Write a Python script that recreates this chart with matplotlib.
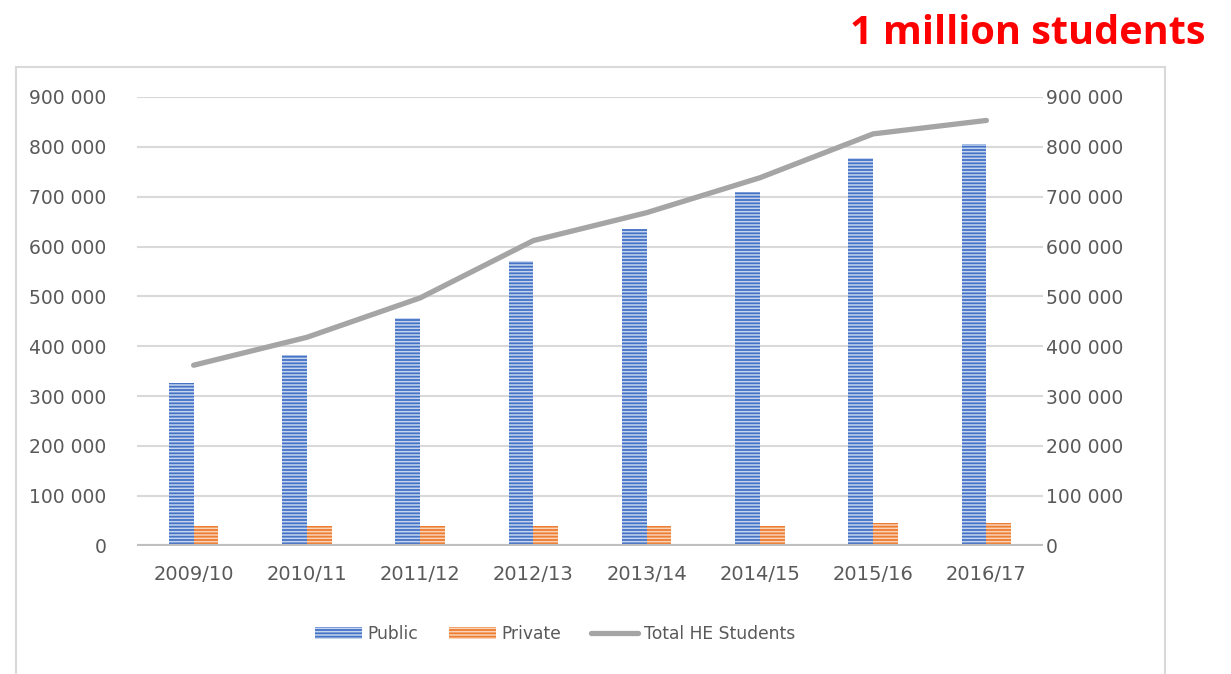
import matplotlib.pyplot as plt
import matplotlib.patches as mpatches
import numpy as np

# Data
years = ["2009/10", "2010/11", "2011/12", "2012/13", "2013/14", "2014/15", "2015/16", "2016/17"]
public = [327000, 383000, 457000, 572000, 635000, 709000, 778000, 806000]
private = [40000, 40000, 40000, 40000, 40000, 40000, 46000, 46000]
total = [362000, 418000, 497000, 612000, 668000, 738000, 826000, 853000]
yticks = [0, 100000, 200000, 300000, 400000, 500000, 600000, 700000, 800000, 900000]

blue = "#4472C4"
orange = "#ED7D31"
grey = "#A5A5A5"
txt = "#595959"

plt.rcParams['hatch.linewidth'] = 1.1

fig = plt.figure(figsize=(12.31, 6.74), dpi=100)

# chart frame (open at the bottom)
frame = mpatches.Rectangle((16 / 1231, -0.1), (1165 - 16) / 1231, 1.1 - 67 / 674,
                           transform=fig.transFigure, fill=False,
                           edgecolor="#D9D9D9", lw=1.5)
fig.patches.append(frame)

ax = fig.add_axes([137 / 1231, 1 - 545.7 / 674, (1043 - 137) / 1231, (545.7 - 97) / 674])

x = np.arange(len(years))
w = 0.218
b1 = ax.bar(x - w / 2, public, w, facecolor=blue, edgecolor="#C5D4EF", hatch="-----", lw=0, label="Public")
b2 = ax.bar(x + w / 2, private, w, facecolor=orange, edgecolor="#FAD3B8", hatch="-----", lw=0, label="Private")
l1, = ax.plot(x, total, color=grey, lw=3.8, solid_capstyle="round", label="Total HE Students")

ax.set_xlim(-0.5, len(years) - 0.5)
ax.set_ylim(0, 900000)
ax.set_yticks(yticks)
ax.set_yticklabels([f"{v:,}".replace(",", " ") for v in yticks])
ax.set_xticks(x)
ax.set_xticklabels(years)
ax.grid(axis="y", color="#D9D9D9", lw=1.5)
ax.set_axisbelow(True)
ax.axhline(0, color="#BFBFBF", lw=3, zorder=1)
for s in ax.spines.values():
    s.set_visible(False)
ax.tick_params(axis="both", length=0, colors=txt)
ax.tick_params(axis="y", labelsize=13.5, pad=22)
ax.tick_params(axis="x", labelsize=14, pad=14)

ax2 = ax.twinx()
ax2.set_ylim(0, 900000)
ax2.set_yticks(yticks)
ax2.set_yticklabels([f"{v:,}".replace(",", " ") for v in yticks])
for s in ax2.spines.values():
    s.set_visible(False)
ax2.tick_params(axis="y", length=0, colors=txt, labelsize=13.5, pad=2)

leg = fig.legend(handles=[b1, b2, l1], loc="center", bbox_to_anchor=(555 / 1231, 1 - 634 / 674), ncol=3,
                 frameon=False, fontsize=12.3, handlelength=2.75, handletextpad=0.3,
                 columnspacing=1.8)
for t in leg.get_texts():
    t.set_color(txt)

fig.text(1205 / 1231, 1 - 33 / 674, "1 million students", color="#FF0000",
         fontsize=28.5, fontweight="bold", family="Open Sans", ha="right", va="center")

fig.savefig("out.png", dpi=100)
